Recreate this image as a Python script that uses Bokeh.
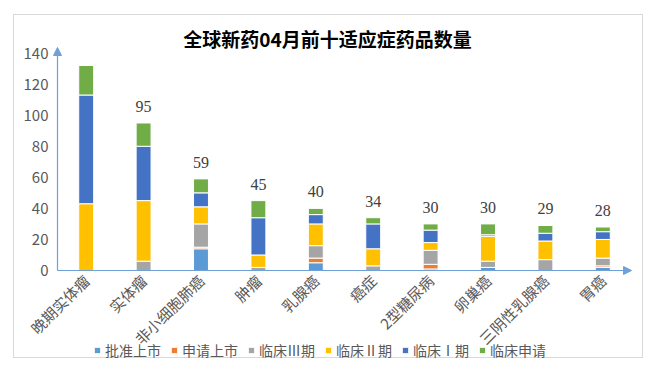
from bokeh.plotting import figure
from bokeh.models import (Range1d, Label, LabelSet, ColumnDataSource,
                          Arrow, NormalHead, FixedTicker)
from bokeh.embed import file_html
from bokeh.resources import INLINE

categories = ["晚期实体瘤", "实体瘤", "非小细胞肺癌", "肿瘤", "乳腺癌",
              "癌症", "2型糖尿病", "卵巢癌", "三阴性乳腺癌", "胃癌"]
series_names = ["批准上市", "申请上市", "临床Ⅲ期", "临床Ⅱ期", "临床Ⅰ期", "临床申请"]
approved     = [0, 0, 14, 0, 5, 0, 1, 2, 0, 2]
filed        = [0, 0, 1, 0, 3, 0, 3, 0, 0, 1]
phase3       = [0, 6, 15, 2, 8, 3, 9, 4, 7, 5]
phase2       = [43, 39, 11, 8, 14, 11, 5, 16, 12, 12]
phase1       = [70, 35, 9, 24, 6, 16, 8, 1, 5, 5]
ind_filed    = [19, 15, 9, 11, 4, 4, 4, 7, 5, 3]
shown_totals = [False, True, True, True, True, True, True, True, True, True]
y_ticks = [0, 20, 40, 60, 80, 100, 120, 140]
title_text = "全球新药04月前十适应症药品数量"

colors = ["#5B9BD5", "#ED7D31", "#A5A5A5", "#FFC000", "#4472C4", "#70AD47"]
FONT = "Noto Sans CJK SC"
AXIS_BLUE = "#6FA0D8"

positions = list(range(len(categories)))
keys = ["s0", "s1", "s2", "s3", "s4", "s5"]
data = dict(x=positions)
for k, arr in zip(keys, [approved, filed, phase3, phase2, phase1, ind_filed]):
    data[k] = arr
source = ColumnDataSource(data)

totals = [sum(v) for v in zip(approved, filed, phase3, phase2, phase1, ind_filed)]
lab_src = ColumnDataSource(dict(
    x=positions, y=totals,
    txt=[str(t) if s else "" for t, s in zip(totals, shown_totals)]))

# plot area: categories at integer positions, y in counts
X0, X1 = -1.249, 9.726
Y0, Y1 = -57.3, 164.2
AX_X = -0.5          # where the value axis stands (left edge of first band)
Y_TOP = 143.6        # top of the value-axis arrow
X_END = 9.5          # tip of the category-axis arrow

p = figure(width=630, height=344, x_range=Range1d(X0, X1),
           y_range=Range1d(Y0, Y1), output_backend="svg", toolbar_location=None,
           min_border_left=0, min_border_right=0, min_border_top=0,
           min_border_bottom=0)
p.styles = {"border": "1px solid #D9D9D9", "position": "relative",
            "left": "13px", "top": "14px"}

p.vbar_stack(keys, x="x", width=0.26, color=colors, source=source,
             line_color="white", line_width=1, legend_label=series_names)

p.add_layout(LabelSet(x="x", y="y", text="txt", source=lab_src,
                      y_offset=11, text_align="center", text_baseline="bottom",
                      text_font=FONT, text_font_size="16px", text_color="#404040"))

p.add_layout(Label(x=4.204, y=149.4, text=title_text, text_align="center",
                   text_baseline="middle", text_font=FONT, text_font_size="19px",
                   text_font_style="bold", text_color="#000000"))

p.xgrid.grid_line_color = None
p.ygrid.grid_line_color = None
p.outline_line_color = None

xa = p.xaxis[0]
ya = p.yaxis[0]
xa.fixed_location = 0
ya.fixed_location = AX_X
for ax in (xa, ya):
    ax.axis_line_color = None
    ax.major_tick_line_color = None
    ax.minor_tick_line_color = None
    ax.major_tick_out = 0
    ax.major_tick_in = 0
    ax.major_label_text_font = FONT
    ax.major_label_text_color = "#595959"

ya.ticker = FixedTicker(ticks=y_ticks)
ya.major_label_text_font_size = "15px"
ya.major_label_standoff = 9

xa.ticker = FixedTicker(ticks=positions)
xa.major_label_overrides = {i: c for i, c in zip(positions, categories)}
xa.major_label_text_font_size = "15px"
xa.major_label_orientation = 0.785398
xa.major_label_standoff = 7

head = dict(size=8, fill_color=AXIS_BLUE, line_color=AXIS_BLUE)
p.add_layout(Arrow(x_start=AX_X, y_start=0, x_end=AX_X, y_end=Y_TOP,
                   line_color=AXIS_BLUE, line_width=1.2, end=NormalHead(**head)))
p.add_layout(Arrow(x_start=AX_X, y_start=0, x_end=X_END, y_end=0,
                   line_color=AXIS_BLUE, line_width=1.2, end=NormalHead(**head)))

lg = p.legend[0]
lg.orientation = "horizontal"
lg.location = (79, -1)
lg.padding = 0
lg.margin = 0
lg.spacing = 9
lg.glyph_width = 8
lg.glyph_height = 8
lg.label_standoff = 4
lg.label_text_font = FONT
lg.label_text_font_size = "14px"
lg.label_text_color = "#595959"
lg.border_line_color = None
lg.background_fill_alpha = 0

open("out.html", "w").write(file_html(p, INLINE))
